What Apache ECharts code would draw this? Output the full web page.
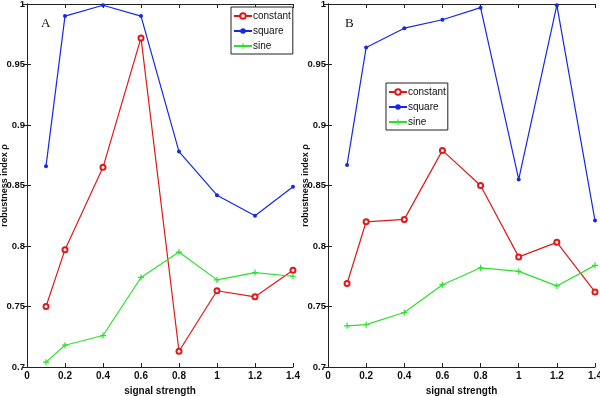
<!DOCTYPE html>
<html>
<head>
<meta charset="utf-8">
<script src="https://cdn.jsdelivr.net/npm/echarts@6/dist/echarts.min.js"></script>
<style>
  html, body { margin: 0; padding: 0; background: #fff; }
  #main { width: 600px; height: 396px; }
</style>
</head>
<body>
<div id="main"></div>
<script>
// signal strength on the x axis
const strength = [0.1, 0.2, 0.4, 0.6, 0.8, 1.0, 1.2, 1.4];

// panel A
const constantA = [0.750, 0.797, 0.865, 0.972, 0.713, 0.763, 0.758, 0.780];
const squareA   = [0.866, 0.990, 0.999, 0.990, 0.878, 0.842, 0.825, 0.849];
const sineA     = [0.704, 0.718, 0.726, 0.774, 0.795, 0.772, 0.778, 0.775];

// panel B
const constantB = [0.769, 0.820, 0.822, 0.879, 0.850, 0.791, 0.803, 0.762];
const squareB   = [0.867, 0.964, 0.980, 0.987, 0.997, 0.855, 0.999, 0.821];
const sineB     = [0.734, 0.735, 0.745, 0.768, 0.782, 0.779, 0.767, 0.784];

const panelLabels = ['A', 'B'];

const RED = '#e01818', BLUE = '#1428e6', GREEN = '#2ee02e';
const PLUS = 'path://M4,0H6V4H10V6H6V10H4V6H0V4H4Z';
const tickFont = { fontFamily: 'Liberation Sans, Arial', fontWeight: 'bold', fontSize: 10, color: '#111' };

const pair = (xs, ys) => xs.map((x, i) => [x, ys[i]]);

const mkX = (g, pos) => ({
  type: 'value', gridIndex: g, position: pos, min: 0, max: 1.4, interval: 0.2,
  name: pos === 'bottom' ? 'signal strength' : '', nameLocation: 'middle', nameGap: 18,
  nameTextStyle: tickFont,
  axisLine: { show: true, lineStyle: { color: '#222', width: 1 } },
  axisTick: { show: true, inside: true, length: 4, lineStyle: { color: '#222' } },
  axisLabel: { show: pos === 'bottom', margin: 4, ...tickFont },
  splitLine: { show: false }
});
const mkY = (g, pos) => ({
  type: 'value', gridIndex: g, position: pos, min: 0.7, max: 1, interval: 0.05,
  name: pos === 'left' ? 'robustness index \u03c1' : '', nameLocation: 'middle', nameGap: 18,
  nameMoveOverlap: false,
  nameTextStyle: { ...tickFont, fontSize: 9 },
  axisLine: { show: true, lineStyle: { color: '#222', width: 1 } },
  axisTick: { show: true, inside: true, length: 4, lineStyle: { color: '#222' } },
  axisLabel: { show: pos === 'left', margin: 2, ...tickFont, fontSize: 9.5 },
  splitLine: { show: false }
});

const mkSeries = (g, c, s, n) => [
  { name: 'constant', type: 'line', xAxisIndex: g * 2, yAxisIndex: g * 2, data: pair(strength, c),
    symbol: 'emptyCircle', symbolSize: 5, itemStyle: { color: RED, borderWidth: 1 },
    lineStyle: { color: RED, width: 1.2 } },
  { name: 'square', type: 'line', xAxisIndex: g * 2, yAxisIndex: g * 2, data: pair(strength, s),
    symbol: 'circle', symbolSize: 4, itemStyle: { color: BLUE },
    lineStyle: { color: BLUE, width: 1.2 } },
  { name: 'sine', type: 'line', xAxisIndex: g * 2, yAxisIndex: g * 2, data: pair(strength, n),
    symbol: PLUS, symbolSize: 6, itemStyle: { color: GREEN },
    lineStyle: { color: GREEN, width: 1.2 } }
];

const legendBase = {
  orient: 'vertical', borderColor: '#222', borderWidth: 1, backgroundColor: '#fff',
  padding: [4, 2, 3, 2], itemGap: 5, itemWidth: 18, itemHeight: 7,
  textStyle: { fontFamily: 'Liberation Sans, Arial', fontSize: 10, color: '#111', padding: [0, 0, 0, -4] },
  data: ['constant', 'square', 'sine']
};

const option = {
  animation: false,
  backgroundColor: '#fff',
  grid: [
    { left: 27, right: 307, top: 4, bottom: 29, outerBoundsMode: 'none', containLabel: false },
    { left: 328, right: 5, top: 4, bottom: 29, outerBoundsMode: 'none', containLabel: false }
  ],
  xAxis: [mkX(0, 'bottom'), mkX(0, 'top'), mkX(1, 'bottom'), mkX(1, 'top')],
  yAxis: [mkY(0, 'left'), mkY(0, 'right'), mkY(1, 'left'), mkY(1, 'right')],
  legend: [
    { ...legendBase, left: 231, top: 7 },
    { ...legendBase, left: 386, top: 83 }
  ],
  graphic: panelLabels.map((t, i) => ({
    type: 'text', left: i === 0 ? 41 : 345, top: 17,
    style: { text: t, font: '13px "Liberation Serif", serif', fill: '#111' }
  })),
  series: [
    ...mkSeries(0, constantA, squareA, sineA),
    ...mkSeries(1, constantB, squareB, sineB)
  ]
};

const myChart = echarts.init(document.getElementById('main'));
myChart.setOption(option);
</script>
</body>
</html>
